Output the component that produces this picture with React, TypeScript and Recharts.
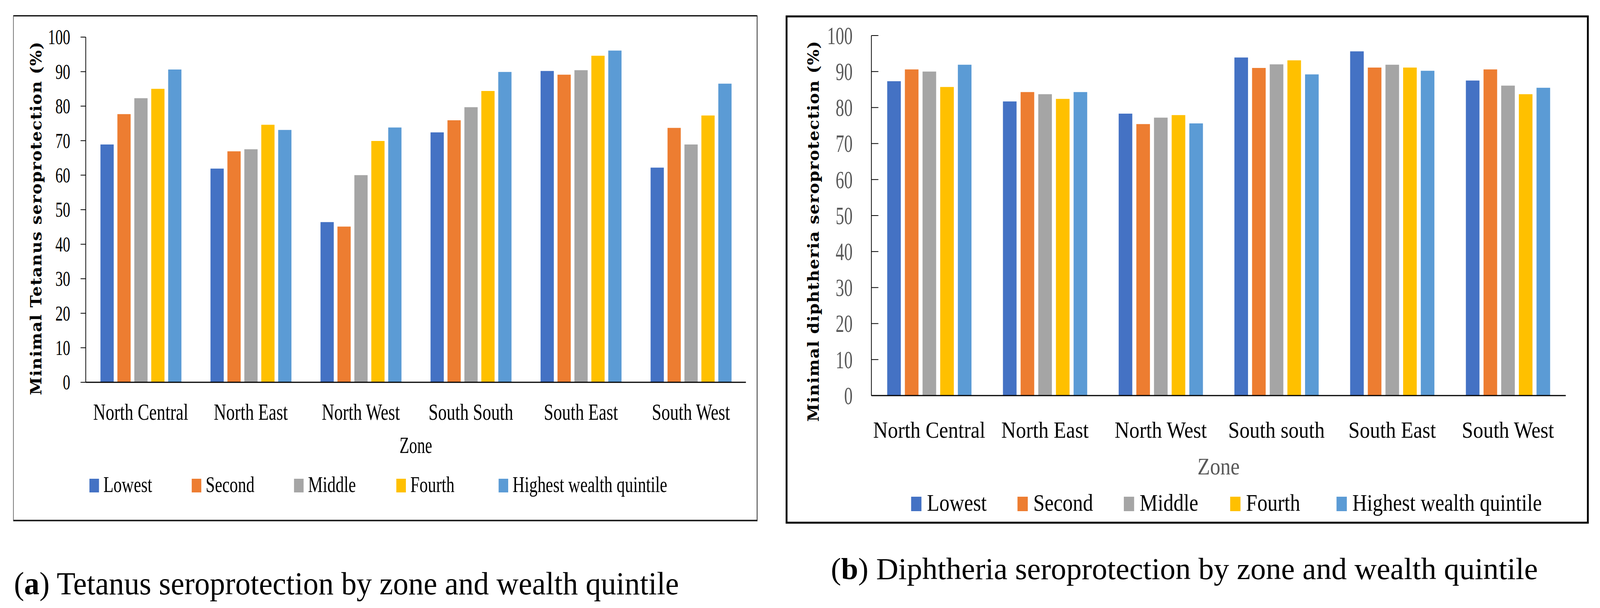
import React from "react";
import { BarChart, Bar, XAxis, YAxis, Legend, Label } from "recharts";

const SERIF = '"Liberation Serif", "Times New Roman", serif';
const BOLD_SERIF = '"DejaVu Serif", "Liberation Serif", serif';

const zonesTetanus = ["North Central", "North East", "North West", "South South", "South East", "South West"];
const zonesDiphtheria = ["North Central", "North East", "North West", "South south", "South East", "South West"];
const quintiles = ["Lowest", "Second", "Middle", "Fourth", "Highest wealth quintile"];
const quintileColors = ["#4472C4", "#ED7D31", "#A5A5A5", "#FFC000", "#5B9BD5"];
const yTicks = [0, 10, 20, 30, 40, 50, 60, 70, 80, 90, 100];

// (a) Tetanus seroprotection (%)
const tetanusLowest = [68.9, 61.9, 46.4, 72.4, 90.2, 62.2];
const tetanusSecond = [77.7, 66.9, 45.1, 75.9, 89.1, 73.7];
const tetanusMiddle = [82.3, 67.5, 60.0, 79.7, 90.4, 68.9];
const tetanusFourth = [85.0, 74.6, 69.9, 84.4, 94.6, 77.3];
const tetanusHighest = [90.6, 73.1, 73.8, 89.9, 96.1, 86.5];

// (b) Diphtheria seroprotection (%)
const diphLowest = [87.3, 81.7, 78.3, 93.9, 95.6, 87.5];
const diphSecond = [90.6, 84.3, 75.4, 91.0, 91.1, 90.6];
const diphMiddle = [90.0, 83.7, 77.2, 92.0, 91.9, 86.1];
const diphFourth = [85.7, 82.4, 77.9, 93.1, 91.1, 83.7];
const diphHighest = [91.9, 84.3, 75.6, 89.2, 90.2, 85.5];

const buildRows = (zones: string[], series: number[][]) =>
  zones.map((zone, i) => {
    const row: any = { zone };
    quintiles.forEach((q, k) => {
      row[q] = series[k][i];
    });
    return row;
  });

const tetanusRows = buildRows(zonesTetanus, [tetanusLowest, tetanusSecond, tetanusMiddle, tetanusFourth, tetanusHighest]);
const diphRows = buildRows(zonesDiphtheria, [diphLowest, diphSecond, diphMiddle, diphFourth, diphHighest]);

const panelA = {
  left: 36, top: 40, width: 2022, height: 1295,
  margin: { top: 55, right: 31, bottom: 0, left: 0 },
  yAxisWidth: 197, xAxisHeight: 356,
  yTickMargin: 42, yTickDir: -14, yTickFont: 54, yTickScale: 0.75, yTickFill: "#000",
  xTickFont: 60, xTickScale: 0.78, xTickDy: 96,
  zoneFont: 60, zoneScale: 0.72, zoneDy: 181, zoneFill: "#000",
  yLabel: "Minimal  Tetanus seroprotection (%)", yLabelX: 76, yLabelY: 972, yLabelLength: 905,
  legendTop: 1186, legendLeft: 207, legendPitch: 278, swatchW: 26, swatchH: 35,
  legendTextDx: 38, legendBaseline: 34, legendFont: 57, legendScale: 0.79,
  barCategoryGap: 40, barGap: 10,
};

const panelB = {
  left: 2135, top: 41, width: 2179, height: 1297,
  margin: { top: 50, right: 59, bottom: 0, left: 0 },
  yAxisWidth: 233, xAxisHeight: 325,
  yTickMargin: 51, yTickDir: 19, yTickFont: 64, yTickScale: 0.72, yTickFill: "#595959",
  xTickFont: 60, xTickScale: 0.92, xTickDy: 108,
  zoneFont: 62, zoneScale: 0.9, zoneDy: 202, zoneFill: "#595959",
  yLabel: "Minimal  diphtheria seroprotection (%)", yLabelX: 90, yLabelY: 1039, yLabelLength: 975,
  legendTop: 1231, legendLeft: 341, legendPitch: 289, swatchW: 28, swatchH: 37,
  legendTextDx: 43, legendBaseline: 36, legendFont: 62, legendScale: 0.89,
  barCategoryGap: 43, barGap: 11,
};

const YTick = ({ x, y, payload, cfg }: any) => {
  const ax = x + cfg.yTickMargin;
  return (
    <g>
      <line x1={ax} x2={ax + cfg.yTickDir} y1={y} y2={y} stroke="#000" strokeWidth={2} />
      <text
        transform={`translate(${x},${y + cfg.yTickFont * 0.34}) scale(${cfg.yTickScale},1)`}
        textAnchor="end"
        fontFamily={SERIF}
        fontSize={cfg.yTickFont}
        fill={cfg.yTickFill}
      >
        {payload.value}
      </text>
    </g>
  );
};

const XTick = ({ x, y, payload, cfg }: any) => (
  <text
    transform={`translate(${x},${y + cfg.xTickDy}) scale(${cfg.xTickScale},1)`}
    textAnchor="middle"
    fontFamily={SERIF}
    fontSize={cfg.xTickFont}
    fill="#000"
  >
    {payload.value}
  </text>
);

const Panel = ({ cfg, rows }: any) => (
  <div style={{ position: "absolute", left: cfg.left, top: cfg.top }}>
    <BarChart
      width={cfg.width}
      height={cfg.height}
      data={rows}
      margin={cfg.margin}
      barCategoryGap={cfg.barCategoryGap}
      barGap={cfg.barGap}
    >
      <XAxis
        dataKey="zone"
        height={cfg.xAxisHeight}
        tickLine={false}
        tickSize={0}
        tickMargin={0}
        interval={0}
        axisLine={{ stroke: "#000", strokeWidth: 3 }}
        tick={(p: any) => <XTick {...p} cfg={cfg} />}
      >
        <Label
          content={(p: any) => {
            const vb = p.viewBox || {};
            return (
              <text
                transform={`translate(${vb.x + vb.width / 2},${vb.y + cfg.zoneDy}) scale(${cfg.zoneScale},1)`}
                textAnchor="middle"
                fontFamily={SERIF}
                fontSize={cfg.zoneFont}
                fill={cfg.zoneFill}
              >
                Zone
              </text>
            );
          }}
        />
      </XAxis>
      <YAxis
        width={cfg.yAxisWidth}
        domain={[0, 100]}
        ticks={yTicks}
        interval={0}
        tickLine={false}
        tickSize={0}
        tickMargin={cfg.yTickMargin}
        axisLine={{ stroke: "#000", strokeWidth: 2 }}
        tick={(p: any) => <YTick {...p} cfg={cfg} />}
      >
        <Label
          content={() => (
            <text
              transform={`translate(${cfg.yLabelX},${cfg.yLabelY}) rotate(-90)`}
              fontFamily={BOLD_SERIF}
              fontWeight="bold"
              fontSize={42}
              fill="#000"
              textLength={cfg.yLabelLength}
              lengthAdjust="spacing"
            >
              {cfg.yLabel}
            </text>
          )}
        />
      </YAxis>
      <Legend
        layout="horizontal"
        verticalAlign="middle"
        align="center"
        wrapperStyle={{ top: cfg.legendTop, left: cfg.legendLeft, width: cfg.legendPitch * 4 + 600, height: cfg.swatchH + 20 }}
        content={() => (
          <svg width={cfg.legendPitch * 4 + 600} height={cfg.swatchH + 20} style={{ overflow: "visible" }}>
            {quintiles.map((q, k) => (
              <g key={q} transform={`translate(${k * cfg.legendPitch},0)`}>
                <rect x={0} y={0} width={cfg.swatchW} height={cfg.swatchH} fill={quintileColors[k]} />
                <text
                  transform={`translate(${cfg.legendTextDx},${cfg.legendBaseline}) scale(${cfg.legendScale},1)`}
                  fontFamily={SERIF}
                  fontSize={cfg.legendFont}
                  fill="#000"
                >
                  {q}
                </text>
              </g>
            ))}
          </svg>
        )}
      />
      {quintiles.map((q, k) => (
        <Bar key={q} dataKey={q} fill={quintileColors[k]} isAnimationActive={false} />
      ))}
    </BarChart>
  </div>
);

export default function App() {
  // the browser window may be narrower than the 4348x1557 layout: stretch the layout to fill it
  const vw = typeof window !== "undefined" ? window.innerWidth : 4348;
  const vh = typeof window !== "undefined" ? window.innerHeight : 1557;
  const sx = vw / 4348;
  const sy = vh / 1557;
  return (
    <div
      style={{
        position: "absolute", left: 0, top: 0, width: 4348, height: 1557,
        background: "#fff", overflow: "hidden",
        transform: `scale(${sx},${sy})`, transformOrigin: "0 0",
      }}
    >
      <Panel cfg={panelA} rows={tetanusRows} />
      <Panel cfg={panelB} rows={diphRows} />
      <svg width={4348} height={1557} style={{ position: "absolute", left: 0, top: 0, pointerEvents: "none" }}>
        {/* frame (a) */}
        <line x1={36} x2={2058} y1={40.5} y2={40.5} stroke="#000" strokeWidth={3} />
        <line x1={36} x2={2058} y1={1333} y2={1333} stroke="#222" strokeWidth={4} />
        <line x1={36.5} x2={36.5} y1={40} y2={1335} stroke="#444" strokeWidth={1.5} />
        <line x1={2057.5} x2={2057.5} y1={40} y2={1335} stroke="#222" strokeWidth={2} />
        {/* frame (b) */}
        <rect x={2137.5} y={42} width={2177.5} height={1296.5} fill="none" stroke="#000" strokeWidth={5} />
        <text x={38} y={1522} fontFamily={SERIF} fontSize={82} fill="#000" textLength={1807} lengthAdjust="spacingAndGlyphs">
          <tspan>(</tspan>
          <tspan fontWeight="bold">a</tspan>
          <tspan>) Tetanus seroprotection by zone and wealth quintile</tspan>
        </text>
        <text x={2258} y={1483} fontFamily={SERIF} fontSize={79} fill="#000" textLength={1921} lengthAdjust="spacingAndGlyphs">
          <tspan>(</tspan>
          <tspan fontWeight="bold">b</tspan>
          <tspan>) Diphtheria seroprotection by zone and wealth quintile</tspan>
        </text>
      </svg>
    </div>
  );
}
